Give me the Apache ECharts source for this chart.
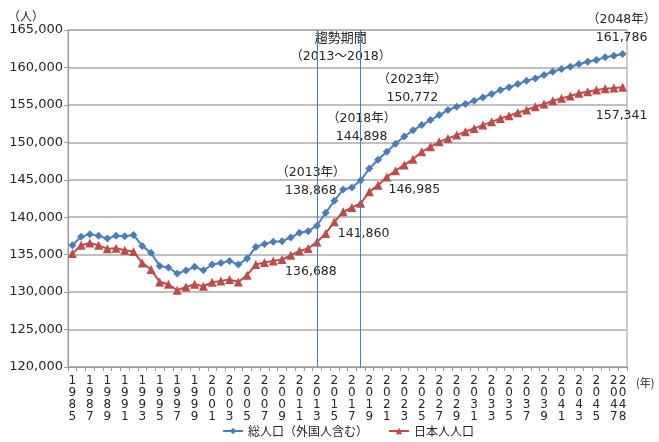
<!DOCTYPE html>
<html><head><meta charset="utf-8">
<script src="https://cdn.jsdelivr.net/npm/echarts@6/dist/echarts.min.js"></script>
<style>html,body{margin:0;padding:0;background:#fff}#c{width:659px;height:442px}</style>
</head><body><div id="c"></div>
<script>
const years = [];
for (let y = 1985; y <= 2048; y++) years.push(String(y));

const totalPop = [
136265,137380,137740,137510,137160,137510,137470,137640,136170,135240,
133500,133290,132480,132880,133370,132920,133680,133900,134170,133680,
134480,136040,136440,136710,136800,137290,137920,138140,138868,140590,
142190,143700,143970,144898,146510,147680,148740,149800,150772,151600,
152300,152970,153640,154310,154750,155110,155550,156000,156450,156980,
157340,157780,158230,158540,158990,159430,159790,160100,160460,160770,
160990,161350,161570,161786];

const japanesePop = [
135150,136265,136570,136265,135780,135860,135600,135420,133900,133010,
131360,131050,130250,130690,131050,130780,131320,131500,131680,131360,
132260,133680,133950,134170,134350,134920,135500,135820,136688,137830,
139380,140720,141300,141860,143390,144280,145380,146200,146985,147750,
148740,149410,150070,150520,150970,151410,151860,152300,152740,153190,
153550,153950,154310,154750,155110,155550,155870,156180,156540,156760,
156980,157160,157250,157341];

const yTicks = { min: 120000, max: 165000, interval: 5000 };
const seriesNames = ['総人口（外国人含む）', '日本人人口'];
const trendYears = ['2013', '2018'];
const trendText = ['趨勢期間', '（2013～2018）'];

// annotations: [seriesIndex, year, text, dx, dy]
const notes = [
  [0, '2013', '（2013年）\n138,868', -6, -44],
  [0, '2018', '（2018年）\n144,898', 1, -53],
  [0, '2023', '（2023年）\n150,772', 8, -48],
  [0, '2048', '（2048年）\n161,786', -1, -25],
  [1, '2013', '136,688', -6, 30],
  [1, '2018', '141,860', 3, 30],
  [1, '2023', '146,985', 10, 25],
  [1, '2048', '157,341', -1, 28]
];

const FONT = '"DejaVu Sans", "Noto Sans CJK JP", sans-serif';
const CJK = '"Noto Sans CJK JP", sans-serif';
const txt = '#262626';

function makeData(arr, si) {
  return arr.map((v, i) => {
    const n = notes.find(t => t[0] === si && t[1] === years[i]);
    if (!n) return v;
    return {
      value: v,
      label: {
        show: true, position: 'inside', offset: [n[3], n[4]],
        formatter: n[2], color: txt, fontSize: 12.5, lineHeight: 18,
        fontFamily: FONT, align: 'center', verticalAlign: 'middle'
      }
    };
  });
}

const chart = echarts.init(document.getElementById('c'), null, { renderer: 'canvas' });
chart.setOption({
  animation: false,
  backgroundColor: '#fff',
  textStyle: { fontFamily: FONT },
  grid: { left: 68, right: 32, top: 30, bottom: 75, show: true, borderColor: '#9a9a9a', borderWidth: 1,
          containLabel: false, outerBoundsMode: 'none' },
  legend: {
    bottom: 0, left: 217, itemWidth: 20, itemHeight: 8, itemGap: 20,
    textStyle: { fontSize: 12, color: txt, fontFamily: CJK },
    data: seriesNames
  },
  xAxis: {
    type: 'category', data: years, boundaryGap: true,
    name: '(年)', nameLocation: 'end', nameGap: 9,
    nameTextStyle: { fontSize: 11, color: txt, fontFamily: CJK, verticalAlign: 'top', padding: [10, 0, 0, 0] },
    axisLine: { lineStyle: { color: '#9a9a9a', width: 1 } },
    axisTick: { show: true, interval: 0, length: 4, lineStyle: { color: '#9a9a9a' } },
    axisLabel: {
      interval: (i) => i % 2 === 0 || i === years.length - 1,
      formatter: v => v.split('').join('\n'),
      fontSize: 12, lineHeight: 12, color: txt, margin: 8
    },
    splitLine: { show: false }
  },
  yAxis: {
    type: 'value', min: yTicks.min, max: yTicks.max, interval: yTicks.interval,
    name: '（人）', nameLocation: 'end', nameGap: 8,
    nameTextStyle: { fontSize: 12, color: txt, fontFamily: CJK, align: 'right', padding: [0, 24, 0, 0] },
    axisLine: { show: true, lineStyle: { color: '#9a9a9a', width: 1 } },
    axisTick: { show: true, length: 4, lineStyle: { color: '#9a9a9a' } },
    axisLabel: { fontSize: 13, color: txt, margin: 5, formatter: v => v.toLocaleString('en-US') },
    splitLine: { lineStyle: { color: '#ababab', width: 1.5 } }
  },
  series: [
    {
      name: seriesNames[0], type: 'line', data: makeData(totalPop, 0),
      symbol: 'diamond', symbolSize: 8, showAllSymbol: true,
      lineStyle: { color: '#4a7ebb', width: 2 },
      itemStyle: { color: '#4a7ebb' },
      z: 3,
      markLine: {
        silent: true, symbol: 'none', label: { show: false },
        lineStyle: { color: '#4a7ebb', width: 1, type: 'solid' },
        data: trendYears.map(y => ({ xAxis: y }))
      }
    },
    {
      name: seriesNames[1], type: 'line', data: makeData(japanesePop, 1),
      symbol: 'triangle', symbolSize: 9, showAllSymbol: true,
      lineStyle: { color: '#be4b48', width: 2 },
      itemStyle: { color: '#be4b48' },
      z: 2
    }
  ]
});

// trend-period caption centered between the two trend lines
const x1 = chart.convertToPixel({ xAxisIndex: 0 }, trendYears[0]);
const x2 = chart.convertToPixel({ xAxisIndex: 0 }, trendYears[1]);
const cx = (x1 + x2) / 2 + 2;
chart.setOption({
  graphic: [
    { type: 'text', x: cx, y: 31, style: { text: trendText[0], font: '13px ' + CJK, fill: txt, textAlign: 'center' } },
    { type: 'text', x: cx, y: 50, style: { text: trendText[1], font: '12.5px ' + FONT, fill: txt, textAlign: 'center' } }
  ]
});
</script></body></html>
